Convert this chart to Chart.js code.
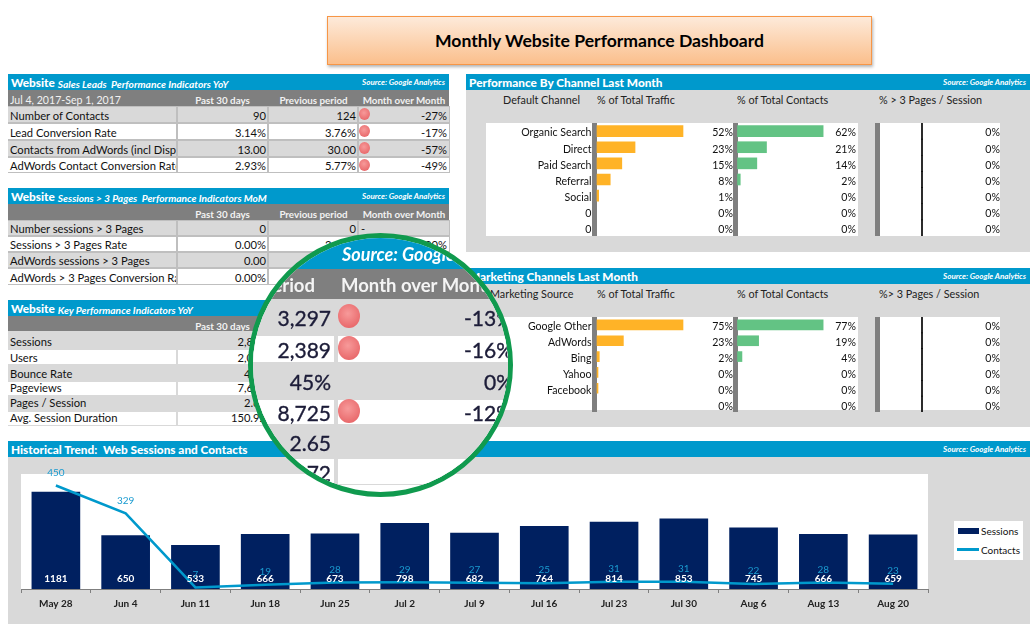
<!DOCTYPE html>
<html>
<head>
<meta charset="utf-8">
<title>Monthly Website Performance Dashboard</title>
<script src="https://cdn.jsdelivr.net/npm/chart.js@4"></script>
<style>
  html, body { margin: 0; padding: 0; background: #fff; }
  body { width: 1030px; height: 625px; position: relative; overflow: hidden; font-family: Lato, sans-serif; color: #111; }
  .abs, canvas { position: absolute; }
  .title {
    left: 327px; top: 16px; width: 543px; height: 47px; line-height: 48px; text-align: center;
    font-size: 17.6px; font-weight: 700; color: #000; border: 1px solid #f79646;
    background: linear-gradient(#fdeada, #fbbf8c); box-shadow: 1px 2px 3px rgba(0,0,0,.3);
  }
  .band { background: #0099cc; color: #fff; height: 16px; line-height: 14px; white-space: pre; font-weight: 700; }
  .band b { font-size: 11.8px; padding-left: 3px; }
  .band i { font-size: 10.2px; padding-left: 3px; position: relative; top: 1px; }
  .source { font-size: 8px; font-style: italic; font-weight: 700; color: #fff; text-align: right; height: 16px; line-height: 16px; }
  .dark { background: #7f7f7f; height: 16px; }
  .colhead { font-size: 9.8px; font-weight: 700; color: #f2f2f2; text-align: center; line-height: 20px; height: 16px; }
  .cell { font-size: 11.2px; overflow: hidden; white-space: nowrap; box-sizing: border-box; }
  .panel { background: #d9d9d9; }
  .white { background: #fff; }
  .head { font-size: 10.8px; line-height: 14px; color: #222; white-space: nowrap; }
  .dot { width: 11px; height: 12px; border-radius: 50%; background: radial-gradient(circle at 45% 40%, #f79a9a, #e4595c); }
  .lens {
    left: 248px; top: 233px; width: 265px; height: 264px; box-sizing: border-box; border-radius: 50%;
    border: 5px solid #109a4e; background: #fff; overflow: hidden;
  }
  .lens .inner { position: absolute; left: -253px; top: -238px; width: 1030px; height: 625px; }
  .lens .big { font-size: 21px; line-height: 30px; text-align: right; white-space: nowrap; color: #1c1c38; -webkit-text-stroke: 0.35px #1c1c38; }
  .legend { left: 954px; top: 521px; width: 69px; height: 39px; background: #fff; font-size: 10px; }
</style>
</head>
<body>
<script>
// table data
const tableColumns = ['Past 30 days', 'Previous period', 'Month over Month'];
const dateRange = 'Jul 4, 2017-Sep 1, 2017';

const leadRows = ['Number of Contacts', 'Lead Conversion Rate', 'Contacts from AdWords (incl Display)', 'AdWords Contact Conversion Rate'];
const leadPast = ['90', '3.14%', '13.00', '2.93%'];
const leadPrev = ['124', '3.76%', '30.00', '5.77%'];
const leadChange = ['-27%', '-17%', '-57%', '-49%'];

const pagesRows = ['Number sessions > 3 Pages', 'Sessions > 3 Pages Rate', 'AdWords sessions > 3 Pages', 'AdWords > 3 Pages Conversion Rate'];
const pagesPast = ['0', '0.00%', '0.00', '0.00%'];
const pagesPrev = ['0', '3.00%', '', ''];
const pagesChange = ['-', '-100%', '', ''];

const kpiRows = ['Sessions', 'Users', 'Bounce Rate', 'Pageviews', 'Pages / Session', 'Avg. Session Duration'];
const kpiPast = ['2,868', '2,007', '45%', '7,678', '2.68', '150.92'];
const kpiPrev = ['3,297', '2,389', '45%', '8,725', '2.65', '172.72'];
const kpiChange = ['-13%', '-16%', '0%', '-12%', '', ''];

// channel bars
const channelLabels = ['Organic Search', 'Direct', 'Paid Search', 'Referral', 'Social', '0', '0'];
const channelTraffic = [52, 23, 15, 8, 1, 0, 0];
const channelContacts = [62, 21, 14, 2, 0, 0, 0];
const channelPages = [0, 0, 0, 0, 0, 0, 0];

const sourceLabels = ['Google Other', 'AdWords', 'Bing', 'Yahoo', 'Facebook', ''];
const sourceTraffic = [75, 23, 2, 0.3, 0.3, 0];
const sourceContacts = [77, 19, 4, 0, 0, 0];
const sourcePages = [0, 0, 0, 0, 0, 0];

// historical trend
const weeks = ['May 28', 'Jun 4', 'Jun 11', 'Jun 18', 'Jun 25', 'Jul 2', 'Jul 9', 'Jul 16', 'Jul 23', 'Jul 30', 'Aug 6', 'Aug 13', 'Aug 20'];
const sessions = [1181, 650, 533, 666, 673, 798, 682, 764, 814, 853, 745, 666, 659];
const contacts = [450, 329, 7, 19, 28, 29, 27, 25, 31, 31, 22, 28, 23];

const BLUE = '#0099cc', AXIS = '#7f7f7f', ORANGE = '#ffb327', GREEN = '#63c384', NAVY = '#002060';
Chart.defaults.font.family = 'Lato, sans-serif';
Chart.defaults.animation = false;
Chart.defaults.devicePixelRatio = 1;

function el(parent, cls, left, top, width, height, text) {
  const d = document.createElement('div');
  d.className = 'abs ' + cls;
  d.style.left = left + 'px';
  d.style.top = top + 'px';
  if (width != null) d.style.width = width + 'px';
  if (height != null) d.style.height = height + 'px';
  if (text != null) d.textContent = text;
  parent.appendChild(d);
  return d;
}

function band(parent, left, top, width, title, sub) {
  const b = el(parent, 'band', left, top, width);
  const t = document.createElement('b');
  t.textContent = title;
  b.appendChild(t);
  if (sub) {
    const s = document.createElement('i');
    s.textContent = sub;
    b.appendChild(s);
  }
  el(parent, 'source', left, top, width - 4, null, 'Source: Google Analytics');
}

function table(top, title, sub, labels, past, prev, change, rowTops, rowH, opts) {
  const body = document.body;
  band(body, 8, top, 441, title, sub);
  el(body, 'dark', 8, top + 16, 441);
  if (opts.date) {
    el(body, 'cell', 10, top + 16, 170, 16, opts.date).style.cssText += 'color:#f2f2f2;font-size:10.6px;line-height:20px;';
  }
  const colX = [178, 269, 359], colW = [89, 89, 90];
  tableColumns.forEach((c, i) => {
    if (opts.hideCols && i > 0) return;
    el(body, 'colhead', colX[i], top + 16, colW[i], null, c);
  });
  const last = rowTops.length - 1;
  el(body, '', 8, rowTops[0] - 1, 442, rowTops[last] + rowH[last] + 2 - rowTops[0]).style.background = opts.grid;
  labels.forEach((lab, i) => {
    const bg = i % 2 ? '#fff' : '#d9d9d9';
    const extra = opts.lineExtra ? opts.lineExtra[i] : 2;
    const line = 'background:' + bg + ';line-height:' + (rowH[i] + extra) + 'px;';
    el(body, 'cell', 8, rowTops[i], 168, rowH[i], lab).style.cssText += line + 'padding-left:2px;';
    el(body, 'cell', 178, rowTops[i], 89, rowH[i], past[i]).style.cssText += line + 'text-align:right;padding-right:1px;';
    el(body, 'cell', 269, rowTops[i], 88, rowH[i], prev[i]).style.cssText += line + 'text-align:right;padding-right:1px;';
    const c = el(body, 'cell', 359, rowTops[i], 90, rowH[i], change[i]);
    c.style.cssText += line + 'text-align:' + (change[i] === '-' ? 'left;padding-left:2px;' : 'right;padding-right:2px;');
    if (change[i].charAt(0) === '-' && change[i].length > 1) {
      el(body, 'dot', 359, rowTops[i] + 1);
    }
  });
}

// percent text on the right end of each row
const rowValues = {
  id: 'rowValues',
  afterDatasetsDraw(chart, args, o) {
    const { ctx, chartArea, scales } = chart;
    ctx.save();
    ctx.font = '10.6px Lato, sans-serif';
    ctx.fillStyle = '#111';
    ctx.textAlign = 'right';
    ctx.textBaseline = 'middle';
    o.values.forEach((v, i) => {
      ctx.fillText(Math.round(v) + '%', chartArea.right, scales.y.getPixelForValue(i) + o.offset);
    });
    ctx.restore();
  }
};

function noAxisPadding(width) {
  return function (s) {
    s.width = width;
    s.paddingTop = 0;
    s.paddingBottom = 0;
  };
}

function rowChart(left, top, width, height, labels, values, color, axisW, fullBar, thick) {
  const cv = document.createElement('canvas');
  cv.width = width;
  cv.height = height;
  cv.style.left = left + 'px';
  cv.style.top = top + 'px';
  document.body.appendChild(cv);
  const k = fullBar / Math.max(...values);   // px per percent
  const plotW = width - axisW;
  const zeroShift = 2.5;
  new Chart(cv, {
    type: 'bar',
    data: {
      labels: labels,
      datasets: [{
        data: values.map(v => (v > 0 ? v : null)),
        backgroundColor: color,
        barThickness: thick,
        minBarLength: 1,
        base: 0
      }]
    },
    options: {
      indexAxis: 'y',
      responsive: false,
      layout: { padding: 0 },
      plugins: { legend: { display: false }, tooltip: { enabled: false }, rowValues: { values: values, offset: 2 } },
      scales: {
        x: { display: false, min: -zeroShift / k, max: (plotW - zeroShift) / k },
        y: {
          grid: { display: false, drawTicks: false },
          border: { color: AXIS, width: 5 },
          ticks: { color: '#111', font: { size: 10.6 }, padding: 3, labelOffset: 2, autoSkip: false },
          afterFit: noAxisPadding(axisW)
        }
      }
    },
    plugins: [rowValues]
  });
}

// the third column only has a thin line at zero
function zeroChart(left, top, width, height, values) {
  const cv = document.createElement('canvas');
  cv.width = width;
  cv.height = height;
  cv.style.left = left + 'px';
  cv.style.top = top + 'px';
  document.body.appendChild(cv);
  new Chart(cv, {
    type: 'bar',
    data: {
      labels: values.map((v, i) => i),
      datasets: [{ data: values, backgroundColor: '#000', barPercentage: 1, categoryPercentage: 1, minBarLength: 1 }]
    },
    options: {
      indexAxis: 'y',
      responsive: false,
      layout: { padding: 0 },
      plugins: { legend: { display: false }, tooltip: { enabled: false }, rowValues: { values: values, offset: 2 } },
      scales: {
        x: { display: false, min: -44.5, max: 78 },
        y: {
          grid: { display: false },
          border: { color: AXIS, width: 5 },
          ticks: { display: false },
          afterFit: noAxisPadding(2.5)
        }
      }
    },
    plugins: [rowValues]
  });
}

function channelPanel(top, height, title, whiteTop, whiteH, chartH, colHeads, labels, traffic, cts, pages, thick) {
  const body = document.body;
  band(body, 466, top, 564, title);
  el(body, 'panel', 466, top + 16, 564, height);
  colHeads.forEach(h => { el(body, 'head', h[1], top + 19, null, null, h[0]); });
  el(body, 'white', 486, whiteTop, 372, whiteH);
  el(body, 'white', 875, whiteTop, 125, whiteH);
  rowChart(486, whiteTop, 247, chartH, labels, traffic, ORANGE, 108.5, 86, thick);
  rowChart(733, whiteTop, 123.5, chartH, labels.map(() => ''), cts, GREEN, 2, 86, thick);
  zeroChart(875, whiteTop, 125, chartH, pages);
}

// trend chart labels
const trendLabels = {
  id: 'trendLabels',
  afterDatasetsDraw(chart) {
    const { ctx, scales } = chart;
    ctx.save();
    ctx.textAlign = 'center';
    ctx.textBaseline = 'middle';
    ctx.font = '700 10px Lato, sans-serif';
    ctx.fillStyle = '#fff';
    sessions.forEach((v, i) => {
      ctx.fillText(v, scales.x.getPixelForValue(i), scales.y.getPixelForValue(0) - 10);
    });
    ctx.font = '10px Lato, sans-serif';
    ctx.fillStyle = '#1a9bd0';
    contacts.forEach((v, i) => {
      ctx.fillText(v, scales.x.getPixelForValue(i), scales.y2.getPixelForValue(v) - 13);
    });
    ctx.restore();
  }
};

el(document.body, 'title', 327, 16, null, null, 'Monthly Website Performance Dashboard');

table(74, 'Website', 'Sales Leads  Performance Indicators YoY', leadRows, leadPast, leadPrev, leadChange,
  [107, 124, 141, 157.5], [15, 15, 15, 14], { date: dateRange, grid: '#bfbfbf' });
table(188, 'Website', 'Sessions > 3 Pages  Performance Indicators MoM', pagesRows, pagesPast, pagesPrev, pagesChange,
  [221, 237, 253, 269], [14, 14, 14, 15], { grid: '#bfbfbf' });
table(300, 'Website', 'Key Performance Indicators YoY', kpiRows, kpiPast, kpiPrev, kpiChange,
  [332, 350, 364, 382, 395, 412], [18, 14, 18, 13, 17, 13], { grid: '#d9d9d9', hideCols: true, lineExtra: [2, 2, 2, -1, -1, -1] });

channelPanel(74, 162, 'Performance By Channel Last Month', 123, 113, 113,
  [['Default Channel', 503], ['% of Total Traffic', 597], ['% of Total Contacts', 737], ['% > 3 Pages / Session', 879]],
  channelLabels, channelTraffic, channelContacts, channelPages, 11);
channelPanel(268, 143, 'Marketing Channels Last Month', 317, 93, 95,
  [['Marketing Source', 490], ['% of Total Traffic', 597], ['% of Total Contacts', 737], ['%> 3 Pages / Session', 879]],
  sourceLabels, sourceTraffic, sourceContacts, sourcePages, 10);

// historical trend
band(document.body, 8, 441, 1022, 'Historical Trend:  Web Sessions and Contacts');
el(document.body, 'panel', 8, 457, 1022, 167);
el(document.body, 'white', 21, 474, 907, 116);

const trendCanvas = document.createElement('canvas');
trendCanvas.width = 909;
trendCanvas.height = 155;
trendCanvas.style.left = '20px';
trendCanvas.style.top = '464px';
document.body.appendChild(trendCanvas);

new Chart(trendCanvas, {
  data: {
    labels: weeks,
    datasets: [
      { type: 'bar', label: 'Sessions', data: sessions, yAxisID: 'y', backgroundColor: NAVY, barThickness: 48, order: 2 },
      { type: 'line', label: 'Contacts', data: contacts, yAxisID: 'y2', borderColor: BLUE, borderWidth: 2.5, pointRadius: 0, tension: 0, order: 1 }
    ]
  },
  options: {
    responsive: false,
    layout: { padding: { top: 10, left: 1, right: 1, bottom: 0 } },
    plugins: { legend: { display: false }, tooltip: { enabled: false } },
    scales: {
      x: {
        offset: true,
        grid: { drawOnChartArea: false, color: AXIS, tickLength: 4, offset: true },
        border: { color: AXIS, width: 1 },
        ticks: { color: '#222', font: { size: 10, weight: 700 }, padding: 5, maxRotation: 0, autoSkip: false },
        afterFit(s) { s.height = 30; }
      },
      y: { display: false, min: 0, max: 1400 },
      y2: { display: false, min: 0, max: 500 }
    }
  },
  plugins: [trendLabels]
});

// legend box
const legend = el(document.body, 'legend', 954, 521);
el(legend, '', 4, 7, 21, 6).style.background = NAVY;
el(legend, '', 27, 4, null, null, 'Sessions');
el(legend, '', 3, 27, 22, 2.5).style.background = BLUE;
el(legend, '', 27, 23, null, null, 'Contacts');

// magnifier over the KPI table
const lens = el(document.body, 'lens', 248, 233);
const inner = el(lens, 'inner', -253, -238);
el(inner, '', 240, 230, 300, 39).style.background = BLUE;
const src = el(inner, '', 342, 240, 220, 28, 'Source: Google Analytics');
src.style.cssText += 'color:#fff;font-weight:700;font-style:italic;font-size:18px;line-height:28px;white-space:nowrap;';
el(inner, '', 240, 269, 300, 30).style.background = AXIS;
const lensHeadA = el(inner, '', 200, 273, 115, 24, 'Previous period');
lensHeadA.style.cssText += 'color:#f4f4f4;font-weight:700;font-size:18.5px;line-height:24px;text-align:right;white-space:nowrap;direction:rtl;';
const lensHeadB = el(inner, '', 341, 273, 210, 24, 'Month over Month');
lensHeadB.style.cssText += 'color:#f4f4f4;font-weight:700;font-size:18.5px;line-height:24px;white-space:nowrap;';

const lensTops = [299, 335, 363, 399, 425, 458], lensHeights = [36, 28, 36, 26, 33, 27];
kpiPrev.forEach((v, i) => {
  const isWhite = i % 2 === 1;
  el(inner, '', 240, lensTops[i], 300, lensHeights[i]).style.background = '#d9d9d9';
  if (isWhite) {
    el(inner, '', 240, lensTops[i] + 1, 94, lensHeights[i] - 2).style.background = '#fff';
    el(inner, '', 338, lensTops[i] + 1, 200, lensHeights[i] - 2).style.background = '#fff';
  }
  el(inner, 'big', 231, lensTops[i] + lensHeights[i] / 2 - 14, 100, 30, v);
  if (kpiChange[i]) {
    el(inner, 'big', 413, lensTops[i] + lensHeights[i] / 2 - 14, 100, 30, kpiChange[i]);
  }
  if (kpiChange[i].charAt(0) === '-') {
    const d = el(inner, 'dot', 338, lensTops[i] + lensHeights[i] / 2 - 13);
    d.style.width = '22px';
    d.style.height = '24px';
  }
});
</script>
</body>
</html>
